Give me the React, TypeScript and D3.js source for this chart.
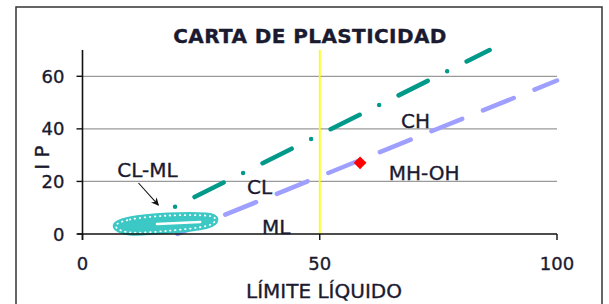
import * as d3 from "d3";

// Values
const xTicks = [0, 50, 100];
const yTicks = [0, 20, 40, 60];
const gridTicks = [20, 40, 60];

// U-line (teal, dash-dot)
const uLineLL = [16, 85.8];
const uLinePI = [7.2, 70];
// A-line (lavender, dashed)
const aLineLL = [20, 100];
const aLinePI = [0, 58.4];
// LL = 50 boundary (yellow)
const boundaryLL = [50, 50];
const boundaryPI = [0, 70];
// sample point
const sampleLL = [58.5];
const samplePI = [27.1];
// CL-ML zone outline
const zoneLL = [7, 10, 18, 26, 28, 26, 18, 10];
const zonePI = [3, 5.5, 7, 7, 5.5, 3, 1.2, 0.6];
// zone labels
const labelText = ["CL-ML", "CL", "ML", "CH", "MH-OH"];
const labelLL = [13.7, 37.3, 40.8, 70.2, 72];
const labelPI = [23.9, 17.5, 2.3, 42.5, 22.8];
// arrow pointing at the CL-ML zone
const arrowLL = [11.8, 16];
const arrowPI = [19.4, 11];

const W = 609;
const H = 304;
const M = { top: 50, right: 52, bottom: 70, left: 82.5 };
const FONT = "'DejaVu Sans', Verdana, sans-serif";
const TEXT = "#1a1a30";

export default function App() {
  const x = d3.scaleLinear().domain([0, 100]).range([M.left, W - M.right]);
  const y = d3.scaleLinear().domain([0, 70]).range([H - M.bottom, M.top]);

  const line = d3
    .line<[number, number]>()
    .x((d) => x(d[0]))
    .y((d) => y(d[1]));
  const pairs = (a: number[], b: number[]) =>
    a.map((v, i) => [v, b[i]] as [number, number]);

  const zonePath =
    d3
      .line<[number, number]>()
      .x((d) => x(d[0]))
      .y((d) => y(d[1]))
      .curve(d3.curveCardinalClosed)(pairs(zoneLL, zonePI)) || "";

  const y0 = y(0);
  const txt = { fill: TEXT, stroke: TEXT, strokeWidth: 0.35 };

  return (
    <svg
      width={W}
      height={H}
      style={{ position: "absolute", left: 0, top: 0, background: "#fff" }}
      fontFamily={FONT}
    >
      <defs>
        <marker
          id="arr"
          viewBox="0 0 10 10"
          refX="9"
          refY="5"
          markerWidth="7"
          markerHeight="7"
          orient="auto"
        >
          <path d="M0,0 L10,5 L0,10 L3,5 z" fill="#111" />
        </marker>
      </defs>
      <rect x={16} y={7} width={586} height={310} fill="#fff" stroke="#333" strokeWidth={1.5} />

      <text x={310} y={43} textAnchor="middle" fontWeight="bold" fontSize={20} letterSpacing={0.4} {...txt}>
        CARTA DE PLASTICIDAD
      </text>

      {/* gridlines */}
      {gridTicks.map((t) => (
        <line key={t} x1={x(0)} x2={x(100)} y1={y(t)} y2={y(t)} stroke="#9a9a9a" strokeWidth={1.3} />
      ))}

      {/* yellow LL=50 line */}
      <path d={line(pairs(boundaryLL, boundaryPI)) || ""} stroke="#ffff00" strokeWidth={1.8} />

      {/* A-line */}
      <path
        d={line(pairs(aLineLL, aLinePI)) || ""}
        stroke="#9f9fff"
        strokeWidth={4.5}
        strokeDasharray="33.2 22.4"
        strokeDashoffset={4}
        strokeLinecap="round"
        fill="none"
      />

      {/* CL-ML zone */}
      <path d={zonePath} fill="#3cc8c4" stroke="#3cc8c4" strokeWidth={6} />
      <path
        d={line(pairs([15.7, 24.8], [3.8, 4.6])) || ""}
        stroke="#fff"
        strokeWidth={2.5}
        strokeLinecap="round"
      />
      <path
        d={zonePath}
        fill="none"
        stroke="#fff"
        strokeWidth={1.8}
        strokeDasharray="0.5 4.5"
        strokeLinecap="round"
      />

      {/* U-line */}
      <path
        d={line(pairs(uLineLL, uLinePI)) || ""}
        stroke="#00998a"
        strokeWidth={4.5}
        strokeDasharray="0 21.75 32.5 21.75"
        strokeDashoffset={57.4}
        strokeLinecap="round"
        fill="none"
      />

      {/* sample point */}
      {sampleLL.map((v, i) => (
        <rect
          key={i}
          x={x(v) - 4.5}
          y={y(samplePI[i]) - 4.5}
          width={9}
          height={9}
          fill="#ff0000"
          transform={`rotate(45 ${x(v)} ${y(samplePI[i])})`}
        />
      ))}

      {/* axes */}
      <line x1={x(0) - 5} x2={x(100)} y1={y0} y2={y0} stroke="#111" strokeWidth={1.6} />
      <line x1={x(0)} x2={x(0)} y1={y(70)} y2={y0 + 6} stroke="#111" strokeWidth={1.6} />
      {yTicks.map((t) => (
        <g key={t}>
          <line x1={x(0) - 6} x2={x(0)} y1={y(t)} y2={y(t)} stroke="#111" strokeWidth={1.4} />
          <text x={x(0) - 18} y={y(t) + 6.5} textAnchor="end" fontSize={18} {...txt}>
            {t}
          </text>
        </g>
      ))}
      {xTicks.map((t) => (
        <g key={t}>
          <line x1={x(t)} x2={x(t)} y1={y0} y2={y0 + 6} stroke="#111" strokeWidth={1.4} />
          <text x={x(t)} y={y0 + 36} textAnchor="middle" fontSize={18} {...txt}>
            {t}
          </text>
        </g>
      ))}
      <text x={324} y={298} textAnchor="middle" fontSize={20} {...txt}>
        LÍMITE LÍQUIDO
      </text>
      <text
        transform={`translate(49,157.5) rotate(-90)`}
        textAnchor="middle"
        fontSize={20}
        {...txt}
      >
        I P
      </text>

      {/* zone labels */}
      {labelText.map((s, i) => (
        <text key={s} x={x(labelLL[i])} y={y(labelPI[i]) + 6} textAnchor="middle" fontSize={20} {...txt}>
          {s}
        </text>
      ))}
      <path
        d={line(pairs(arrowLL, arrowPI)) || ""}
        stroke="#111"
        strokeWidth={1.1}
        markerEnd="url(#arr)"
      />
    </svg>
  );
}
